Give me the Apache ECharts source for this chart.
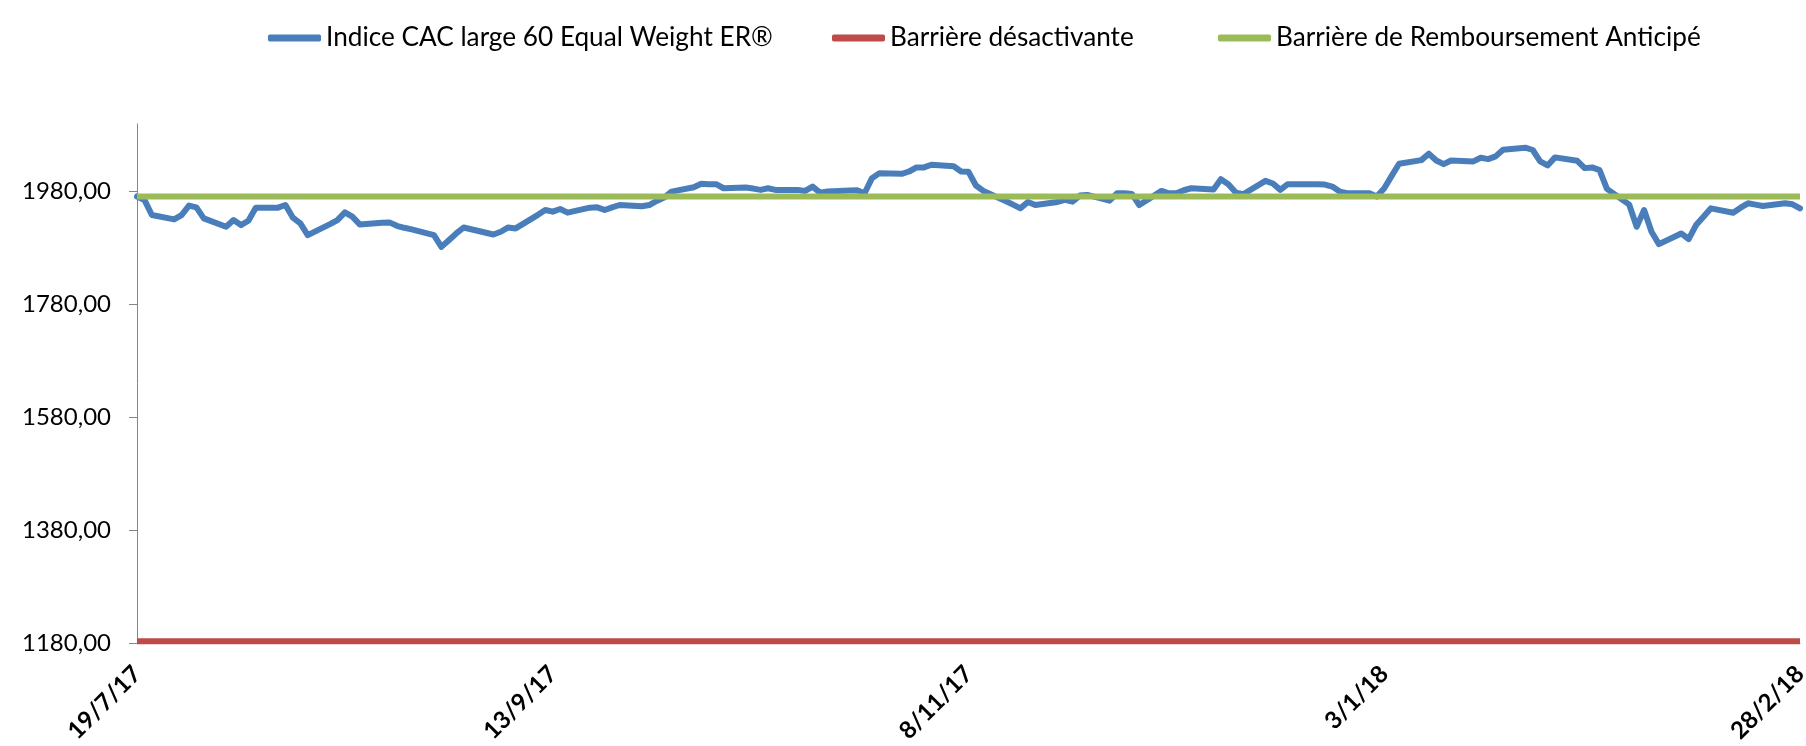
<!DOCTYPE html>
<html>
<head>
<meta charset="utf-8">
<script src="https://cdn.jsdelivr.net/npm/echarts@6/dist/echarts.min.js"></script>
<style>
  html, body { margin: 0; padding: 0; background: #ffffff; }
  #chart { width: 1806px; height: 746px; }
</style>
</head>
<body>
<div id="chart"></div>
<script>
// period covered: every weekday from 19/7/17 to 28/2/18
const startDate = Date.UTC(2017, 6, 19)
const endDate = Date.UTC(2018, 1, 28)
const dayMs = 86400000

// closing level of the index, one value per weekday
const indexLevels = [
  1971.5, 1965.4, 1938.6,
  1930.9, 1938.6, 1955.3, 1952.3, 1932.7,
  1917.8, 1929.7, 1920.8, 1928.5, 1951.7,
  1951.7, 1956.4, 1933.9, 1923.8, 1903.0,
  1922.6, 1929.7, 1943.4, 1935.7, 1922.0,
  1925.0, 1925.6, 1919.6, 1916.0, 1913.1,
  1903.0, 1882.2, 1894.1, 1906.0, 1916.6,
  1907.2, 1904.2, 1909.0, 1916.6, 1914.9,
  1939.0, 1947.5, 1944.6, 1949.3, 1942.8,
  1951.7, 1952.3, 1947.5, 1952.3, 1956.4,
  1954.1, 1956.4, 1963.6, 1969.5, 1980.2,
  1987.9, 1993.9, 1993.3, 1993.3, 1986.1,
  1987.3, 1985.5, 1983.2, 1986.1, 1983.2,
  1983.2, 1981.4, 1989.1, 1978.4, 1980.2,
  1982.0, 1982.6, 1977.2, 2004.0, 2012.9,
  2011.7, 2015.8, 2023.0, 2023.0, 2027.7,
  2025.0, 2015.8, 2015.2, 1990.9, 1981.4,
  1963.6, 1957.1, 1950.5, 1961.8, 1956.4,
  1961.8, 1965.4, 1962.4, 1973.1, 1974.3,
  1964.2, 1977.2, 1977.2, 1976.1, 1956.4,
  1981.4, 1977.2, 1977.2, 1982.6, 1986.1,
  1983.8, 2002.2, 1993.3, 1978.4, 1975.4,
  1999.2, 1994.5, 1983.2, 1993.3, 1993.3,
  1993.3, 1992.7, 1989.1, 1980.2, 1977.2,
  1977.2, 1971.3, 1986.1, 2008.1, 2029.5,
  2036.0, 2047.3, 2035.4, 2028.9, 2035.4,
  2033.7, 2040.2, 2037.8, 2042.6, 2054.5,
  2058.0, 2053.9, 2033.7, 2026.5, 2040.8,
  2034.8, 2021.8, 2023.0, 2018.2, 1985.0,
  1957.0, 1917.8, 1947.5, 1908.9, 1887.0,
  1906.0, 1895.9, 1920.8, 1935.7, 1950.5,
  1942.8, 1951.7, 1959.4, 1957.1, 1954.7,
  1959.4, 1957.6, 1950.5
]

const barrierKnockIn = 1183
const barrierAutocall = 1971.5

const yTicks = [1180, 1380, 1580, 1780, 1980]
const xTickLabels = ['19/7/17', '13/9/17', '8/11/17', '3/1/18', '28/2/18']
const seriesNames = [
  'Indice CAC large 60 Equal Weight ER®',
  'Barrière désactivante',
  'Barrière de Remboursement Anticipé'
]

const totalDays = Math.round((endDate - startDate) / dayMs)
const tickStep = totalDays / (xTickLabels.length - 1)

// day offsets of the weekdays, used as x positions
const dayOffsets = []
for (let d = 0; d <= totalDays; d++) {
  const wd = new Date(startDate + d * dayMs).getUTCDay()
  if (wd !== 0 && wd !== 6) dayOffsets.push(d)
}

const font = 'Lato'

const chart = echarts.init(document.getElementById('chart'))

const legendBase = {
  top: 25,
  padding: 0,
  icon: 'roundRect',
  itemWidth: 53,
  itemHeight: 7,
  textStyle: { color: '#000000', fontFamily: font, fontSize: 26.2 }
}

chart.setOption({
  animation: false,
  backgroundColor: '#ffffff',
  legend: [
    { ...legendBase, left: 268, data: [seriesNames[0]] },
    { ...legendBase, left: 832, data: [seriesNames[1]] },
    { ...legendBase, left: 1218, data: [seriesNames[2]] }
  ],
  grid: { left: 137, right: 6, top: 124, bottom: 103, outerBoundsMode: 'none' },
  xAxis: {
    type: 'value',
    min: 0,
    max: totalDays,
    interval: tickStep,
    axisLine: { lineStyle: { color: '#868686', width: 1 } },
    axisTick: { show: false },
    splitLine: { show: false },
    axisLabel: {
      rotate: 45,
      margin: 27,
      color: '#000000',
      fontFamily: font,
      fontSize: 24,
      fontWeight: 'bold',
      formatter: (v) => xTickLabels[Math.round(v / tickStep)] || ''
    }
  },
  yAxis: {
    type: 'value',
    min: 1180,
    max: 2100,
    interval: 200,
    axisLine: { show: true, lineStyle: { color: '#868686', width: 1 } },
    axisTick: { show: true, length: 8, customValues: yTicks, lineStyle: { color: '#868686' } },
    splitLine: { show: false },
    axisLabel: {
      customValues: yTicks,
      margin: 26,
      color: '#000000',
      fontFamily: font,
      fontSize: 24,
      formatter: (v) => v.toFixed(2).replace('.', ',')
    }
  },
  series: [
    {
      name: seriesNames[0],
      type: 'line',
      symbol: 'none',
      data: dayOffsets.map((d, i) => [d, indexLevels[i]]),
      lineStyle: { color: '#4A7EBB', width: 6, cap: 'round', join: 'round' },
      itemStyle: { color: '#4A7EBB' }
    },
    {
      name: seriesNames[1],
      type: 'line',
      symbol: 'none',
      data: [[0, barrierKnockIn], [totalDays, barrierKnockIn]],
      lineStyle: { color: '#BE4B48', width: 6 },
      itemStyle: { color: '#BE4B48' }
    },
    {
      name: seriesNames[2],
      type: 'line',
      symbol: 'none',
      data: [[0, barrierAutocall], [totalDays, barrierAutocall]],
      lineStyle: { color: '#9BBB59', width: 6 },
      itemStyle: { color: '#9BBB59' }
    }
  ]
})
</script>
</body>
</html>
